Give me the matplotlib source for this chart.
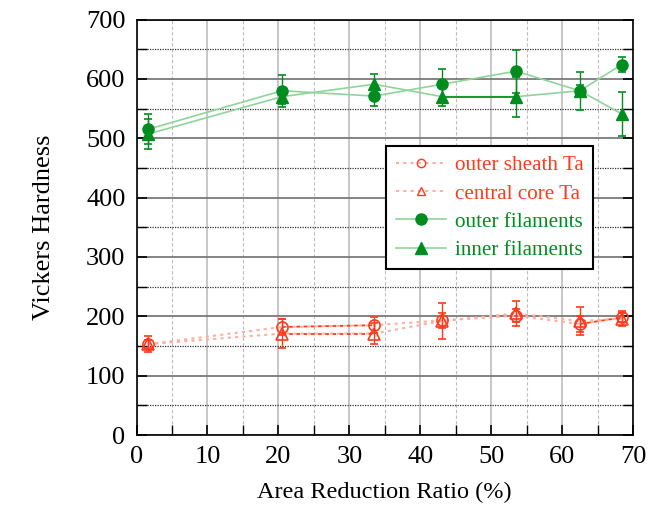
import numpy as np
import matplotlib.pyplot as plt
from matplotlib.ticker import MultipleLocator

plt.rcParams['font.family'] = ['Liberation Serif', 'DejaVu Serif']
plt.rcParams['mathtext.fontset'] = 'stix'

# Datos
reduccion = [1.6, 20.5, 33.5, 43.1, 53.5, 62.5, 68.4]

vaina_ta = [153, 182, 185, 193, 201, 187, 198]
vaina_err = [7, 13, 13, 12, 11, 13, 8]
nucleo_ta = [153, 171, 171, 192, 205, 192, 196]
nucleo_err = [13, 25, 17, 31, 21, 23, 13]
fil_ext = [515, 580, 571, 591, 613, 580, 624]
fil_ext_err = [25, 27, 16, 25, 36, 10, 13]
fil_int = [507, 570, 591, 570, 570, 580, 541]
fil_int_err = [25, 12, 18, 15, 34, 32, 37]

rojo = '#ff3a1a'
rojo_claro = '#ffb0a0'
verde = '#008c1f'
verde_claro = '#8fd49a'

fig = plt.figure(figsize=(6.52, 5.11), dpi=100)
ax = fig.add_axes([0.2094, 0.1487, 0.7615, 0.8131])

# Rejilla
ax.set_xlim(0, 70)
ax.set_ylim(0, 700)
ax.xaxis.set_major_locator(MultipleLocator(10))
ax.xaxis.set_minor_locator(MultipleLocator(5))
ax.yaxis.set_major_locator(MultipleLocator(100))
ax.yaxis.set_minor_locator(MultipleLocator(50))
ax.grid(axis='y', which='major', color='#7a7a7a', lw=1.3, ls='-')
ax.grid(axis='y', which='minor', color='#333333', lw=0.9, ls=(0, (1, 1)))
ax.grid(axis='x', which='major', color='#bdbdbd', lw=1.2, ls='-')
ax.grid(axis='x', which='minor', color='#bdbdbd', lw=0.8, ls=(0, (3, 2)))
ax.set_axisbelow(True)

ax.tick_params(which='both', direction='in', top=False, right=True,
               labelsize=19, pad=8)
ax.tick_params(which='major', length=7, width=1.2)
ax.tick_params(which='minor', length=7, width=1.0)
for s in ax.spines.values():
    s.set_linewidth(1.2)

# Lineas de union
ax.plot(reduccion, vaina_ta, color=rojo_claro, lw=1.5, ls=(0, (1.5, 2)), zorder=2)
ax.plot(reduccion, nucleo_ta, color=rojo_claro, lw=1.5, ls=(0, (1.5, 2)), zorder=2)
ax.plot(reduccion[1:3], vaina_ta[1:3], color=rojo, lw=1.3, ls=(0, (2, 2)), zorder=2)
ax.plot(reduccion[1:3], nucleo_ta[1:3], color=rojo, lw=1.3, ls=(0, (2, 2)), zorder=2)
ax.plot(reduccion[5:7], vaina_ta[5:7], color=rojo, lw=1.3, ls=(0, (2, 2)), zorder=2)
ax.plot(reduccion, fil_ext, color=verde_claro, lw=1.2, zorder=2)
ax.plot(reduccion, fil_int, color=verde_claro, lw=1.2, zorder=2)
ax.plot(reduccion[3:5], fil_int[3:5], color=verde, lw=1.2, zorder=2)

# Barras de error y marcadores
ax.errorbar(reduccion, vaina_ta, yerr=vaina_err, fmt='o', mfc='none', mec=rojo,
            ms=8, mew=1.2, ecolor=rojo, elinewidth=1.0, capsize=3, capthick=1.2, zorder=3)
ax.errorbar(reduccion, nucleo_ta, yerr=nucleo_err, fmt='^', mfc='none', mec=rojo,
            ms=8, mew=1.2, ecolor=rojo, elinewidth=1.0, capsize=3, capthick=1.2, zorder=3)
ax.errorbar(reduccion, fil_ext, yerr=fil_ext_err, fmt='o', color=verde, ms=8,
            ecolor=verde, elinewidth=1.0, capsize=3, capthick=1.2, zorder=3)
ax.errorbar(reduccion, fil_int, yerr=fil_int_err, fmt='^', color=verde, ms=8,
            ecolor=verde, elinewidth=1.0, capsize=3, capthick=1.2, zorder=3)

# Leyenda
h1, = ax.plot([], [], color=rojo_claro, ls=(0, (1.5, 2)), lw=1.5, marker='o',
              mfc='none', mec=rojo, ms=6)
h2, = ax.plot([], [], color=rojo_claro, ls=(0, (1.5, 2)), lw=1.5, marker='^',
              mfc='none', mec=rojo, ms=6)
h3, = ax.plot([], [], color=verde_claro, lw=1.2, marker='o', mfc=verde, mec=verde, ms=8)
h4, = ax.plot([], [], color=verde_claro, lw=1.2, marker='^', mfc=verde, mec=verde, ms=8)
leg = ax.legend([h1, h2, h3, h4],
                ['outer sheath Ta', 'central core Ta', 'outer filaments', 'inner filaments'],
                loc='upper left', bbox_to_anchor=(0.5025, 0.6955), borderaxespad=0,
                fontsize=15.2, frameon=True, fancybox=False, edgecolor='black',
                framealpha=1, handlelength=2.4, handletextpad=0.4, borderpad=0.45,
                labelspacing=0.4)
leg.get_frame().set_linewidth(1.5)
for txt, c in zip(leg.get_texts(), [rojo, rojo, verde, verde]):
    txt.set_color(c)

ax.set_xlabel('Area Reduction Ratio (%)', fontsize=17.5, labelpad=10)
ax.set_ylabel('Vickers Hardness', fontsize=19, labelpad=22)

fig.savefig('out.png', dpi=100)
